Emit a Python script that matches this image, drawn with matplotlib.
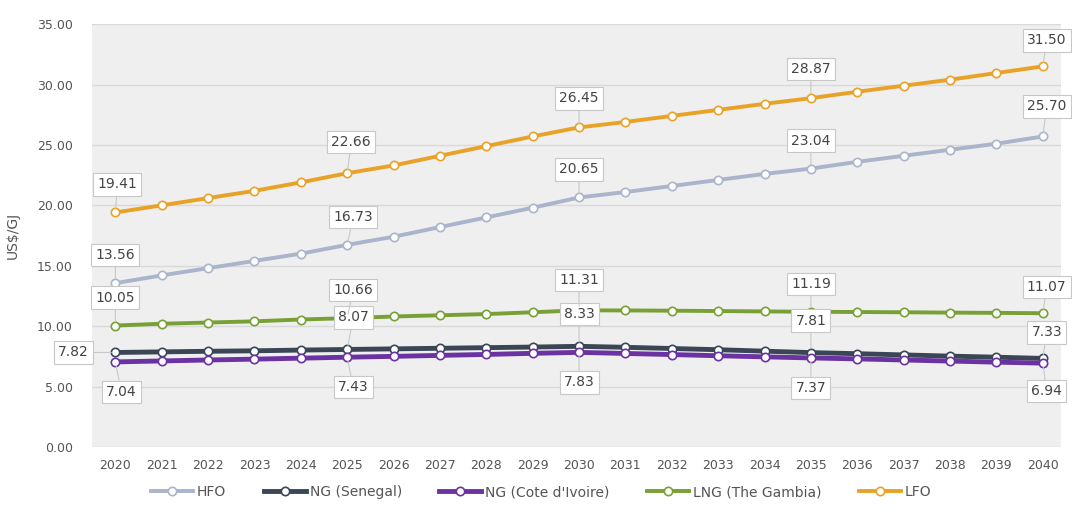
import matplotlib
matplotlib.use("Agg")
import matplotlib.pyplot as plt

years = list(range(2020, 2041))
hfo = [13.56, 14.2, 14.8, 15.4, 16.0, 16.73, 17.4, 18.2, 19.0, 19.8, 20.65,
       21.1, 21.6, 22.1, 22.6, 23.04, 23.6, 24.1, 24.6, 25.1, 25.70]
ng_sen = [7.82, 7.87, 7.92, 7.96, 8.02, 8.07, 8.12, 8.17, 8.22, 8.27, 8.33,
          8.25, 8.15, 8.05, 7.93, 7.81, 7.72, 7.62, 7.52, 7.43, 7.33]
ng_ci = [7.04, 7.12, 7.20, 7.27, 7.35, 7.43, 7.50, 7.58, 7.66, 7.75, 7.83,
         7.74, 7.65, 7.55, 7.46, 7.37, 7.29, 7.20, 7.11, 7.02, 6.94]
lng = [10.05, 10.2, 10.3, 10.4, 10.55, 10.66, 10.8, 10.9, 11.0, 11.15, 11.31,
       11.3, 11.28, 11.25, 11.22, 11.19, 11.17, 11.15, 11.12, 11.10, 11.07]
lfo = [19.41, 20.0, 20.6, 21.2, 21.9, 22.66, 23.3, 24.1, 24.9, 25.7, 26.45,
       26.9, 27.4, 27.9, 28.4, 28.87, 29.4, 29.9, 30.4, 30.95, 31.50]

series_names = ["HFO", "NG (Senegal)", "NG (Cote d'Ivoire)", "LNG (The Gambia)", "LFO"]
series_vals = [hfo, ng_sen, ng_ci, lng, lfo]
colors = ["#aab4cb", "#3a4656", "#6b32a2", "#78a034", "#e9a228"]
label_years = [2020, 2025, 2030, 2035, 2040]
yticks = [0, 5, 10, 15, 20, 25, 30, 35]

fig = plt.figure(figsize=(10.72, 5.24), dpi=100)
ax = fig.add_axes([0.086, 0.147, 0.904, 0.807])
ax.set_facecolor("#efefef")
ax.set_axisbelow(True)
ax.grid(axis="y", color="#d9d9d9", linewidth=1.0)
for s in ax.spines.values():
    s.set_visible(False)

lines = []
for name, vals, c in zip(series_names, series_vals, colors):
    lw = 3.5 if "NG (" in name and "LNG" not in name else 2.8
    ln, = ax.plot(years, vals, color=c, lw=lw, marker="o", markersize=6,
                  markerfacecolor="white", markeredgecolor=c, markeredgewidth=1.2,
                  label=name, zorder=3)
    lines.append(ln)

# label offsets (pixels) per series per label year
offsets = {
    "HFO": [(0, 28), (6, 28), (0, 28), (0, 28), (4, 30)],
    "NG (Senegal)": [(-42, 0), (6, 32), (0, 32), (0, 32), (4, 26)],
    "NG (Cote d'Ivoire)": [(6, -30), (6, -30), (0, -30), (0, -30), (4, -28)],
    "LNG (The Gambia)": [(0, 28), (6, 28), (0, 30), (0, 28), (4, 26)],
    "LFO": [(2, 28), (4, 31), (0, 29), (0, 29), (4, 26)],
}
for name, vals in zip(series_names, series_vals):
    for j, yr in enumerate(label_years):
        v = vals[years.index(yr)]
        dx, dy = offsets[name][j]
        ax.annotate(f"{v:.2f}", xy=(yr, v), xytext=(dx, dy), textcoords="offset pixels",
                    ha="center", va="center", fontsize=10, color="#444444",
                    bbox=dict(boxstyle="square,pad=0.3", fc="white", ec="#c8c8c8", lw=0.8),
                    arrowprops=dict(arrowstyle="-", color="#c8c8c8", lw=0.8, shrinkA=0, shrinkB=3),
                    zorder=5)

ax.set_xlim(2019.5, 2040.4)
ax.set_ylim(0, 35)
ax.set_xticks(years)
ax.set_xticklabels([str(y) for y in years])
ax.set_yticks(yticks)
ax.set_yticklabels([f"{t:.2f}" for t in yticks])
ax.tick_params(axis="both", length=0, labelsize=9, labelcolor="#555555")
ax.tick_params(axis="x", pad=9)
ax.tick_params(axis="y", pad=14)
ax.set_ylabel("US$/GJ", fontsize=10, color="#555555", labelpad=12)

fig.legend(handles=lines, labels=series_names, loc="center", ncol=5,
           frameon=False, fontsize=10, labelcolor="#555555",
           bbox_to_anchor=(0.505, 0.061), handlelength=3, columnspacing=2.7,
           handletextpad=0.3)

fig.savefig("out.png", dpi=100, facecolor="white")
